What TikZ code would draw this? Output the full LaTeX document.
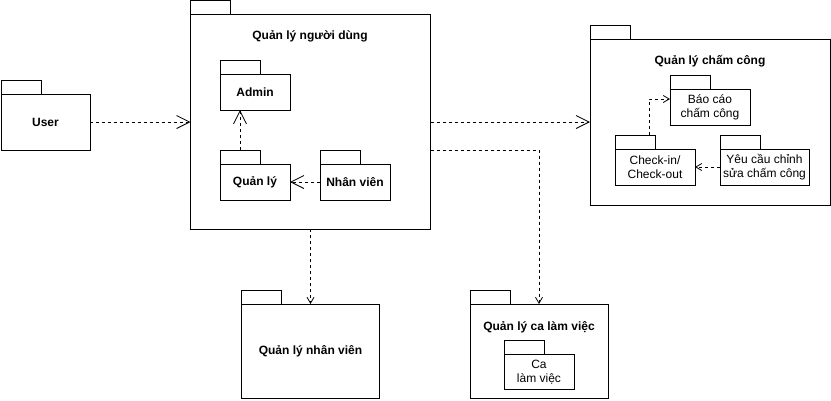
\documentclass[tikz,border=0pt]{standalone}
\usepackage{fontspec}
\setmainfont{Liberation Sans}
\usetikzlibrary{arrows.meta}
\begin{document}
\begin{tikzpicture}[x=1pt,y=-1pt,
  every node/.style={font=\fontsize{12}{14}\selectfont, outer sep=0pt},
  body/.style={draw, line width=0.8pt, inner sep=0pt, align=center},
  bbody/.style={body, font=\fontsize{12}{14}\selectfont\bfseries},
  tabbox/.style={draw, line width=0.8pt, inner sep=0pt, minimum width=40pt, minimum height=14pt, anchor=south west},
  ttl/.style={font=\fontsize{12}{14}\selectfont\bfseries, inner sep=0pt},
  dep/.style={draw, line width=0.8pt, dash pattern=on 3pt off 3pt},
  bigarr/.style={dep, -{Straight Barb[length=13pt,width=13pt,line width=0.8pt]}},
  smallarr/.style={dep, -{Straight Barb[length=6pt,width=7pt,line width=0.8pt]}}
]
\useasboundingbox (0,0) rectangle (831,400);

% User
\node[bbody, minimum width=89pt, minimum height=56pt] (user) at (45.5,122) {User};
\node[tabbox] (userT) at (user.north west) {};

% Quan ly nguoi dung
\node[body, minimum width=240pt, minimum height=215pt] (qlnd) at (310.5,121.5) {};
\node[tabbox] (qlndT) at (qlnd.north west) {};
\node[ttl] (qlndL) at (310,36) {Quản lý người dùng};

\node[bbody, minimum width=70pt, minimum height=36pt] (admin) at (255,92) {Admin};
\node[tabbox] (adminT) at (admin.north west) {};
\node[bbody, minimum width=70pt, minimum height=36pt] (ql) at (255,182) {Quản lý};
\node[tabbox] (qlT) at (ql.north west) {};
\node[bbody, minimum width=70pt, minimum height=36pt] (nv) at (355,182) {Nhân viên};
\node[tabbox] (nvT) at (nv.north west) {};

% Quan ly cham cong
\node[body, minimum width=240pt, minimum height=166pt] (qlcc) at (710,122) {};
\node[tabbox] (qlccT) at (qlcc.north west) {};
\node[ttl] (qlccL) at (710,61) {Quản lý chấm công};

\node[body, minimum width=80pt, minimum height=36pt] (bc) at (710,107) {Báo cáo\\chấm công};
\node[tabbox] (bcT) at (bc.north west) {};
\node[body, minimum width=80pt, minimum height=36pt] (chk) at (655,167) {Check-in/\\Check-out};
\node[tabbox] (chkT) at (chk.north west) {};
\node[body, minimum width=89pt, minimum height=36pt] (yc) at (764.5,167) {Yêu cầu chỉnh\\sửa chấm công};
\node[tabbox] (ycT) at (yc.north west) {};

% Quan ly nhan vien
\node[bbody, minimum width=138pt, minimum height=94pt] (qlnv) at (310.5,351) {Quản lý nhân viên};
\node[tabbox] (qlnvT) at (qlnv.north west) {};

% Quan ly ca lam viec
\node[body, minimum width=138pt, minimum height=94pt] (qlcv) at (539,351) {};
\node[tabbox] (qlcvT) at (qlcv.north west) {};
\node[ttl] (qlcvL) at (539,327) {Quản lý ca làm việc};
\node[body, minimum width=70pt, minimum height=35pt] (ca) at (539,372) {Ca\\làm việc};
\node[tabbox] (caT) at (ca.north west) {};

% Connectors
\draw[bigarr] (user.east) -- (user.east -| qlnd.west);
\draw[bigarr] (qlnd.east |- qlcc.west) -- (qlcc.west);
\draw[bigarr] (qlT.north) -- (qlT.north |- admin.south);
\draw[bigarr] (nv.west) -- (ql.east);
\draw[smallarr] ([xshift=14pt]chkT.north) |- ([yshift=8pt]bc.west);
\draw[smallarr] (yc.west) -- (chk.east);
\draw[smallarr] (qlnd.south) -- (qlnv.north);
\draw[smallarr] ([yshift=-28.5pt]qlnd.east) -| (qlcv.north);
\end{tikzpicture}
\end{document}
